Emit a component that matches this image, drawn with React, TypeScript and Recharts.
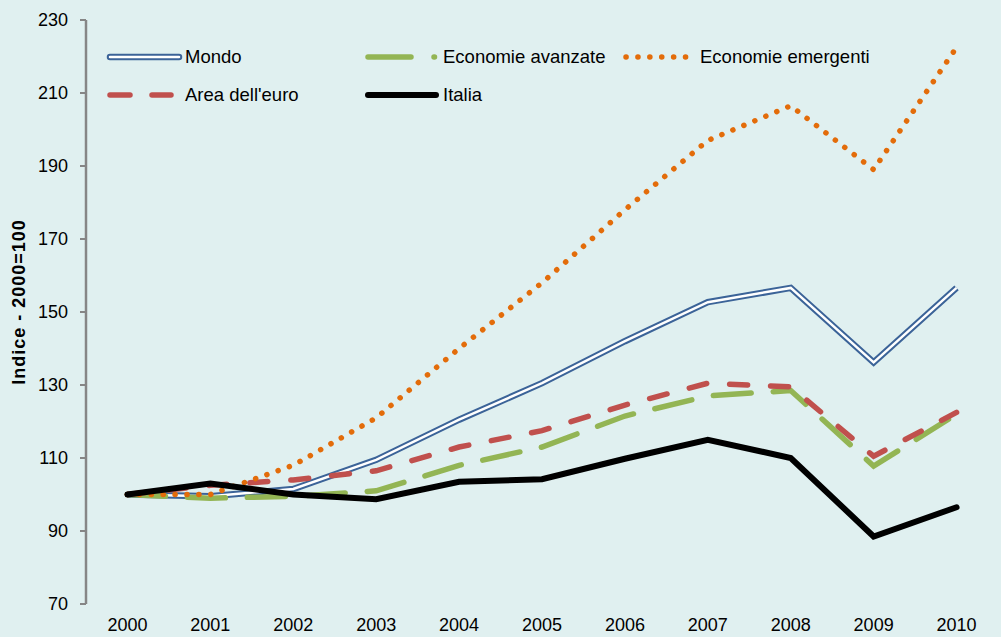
import { LineChart, Line, XAxis, YAxis } from 'recharts';

const years = [2000, 2001, 2002, 2003, 2004, 2005, 2006, 2007, 2008, 2009, 2010];
const mondo = [100, 99.5, 101.5, 109.5, 120.5, 130.5, 142, 152.7, 156.6, 136.2, 156.6];
const avanzate = [100, 99, 99.5, 101, 108, 113, 121.5, 127, 128.5, 107.8, 122];
const emergenti = [100, 100, 108, 121, 140, 158, 178, 197, 206.5, 189, 222.5];
const areaEuro = [100, 102.5, 104, 106.5, 113, 117.5, 124.5, 130.5, 129.5, 110.5, 122.5];
const italia = [100, 103, 100, 98.7, 103.5, 104.2, 109.8, 115, 110, 88.5, 96.5];
const yTicks = [70, 90, 110, 130, 150, 170, 190, 210, 230];
const bandEdges = [1999.5, 2000.5, 2001.5, 2002.5, 2003.5, 2004.5, 2005.5, 2006.5, 2007.5, 2008.5, 2009.5, 2010.5];

const rows = years.map((year, i) => ({
  year,
  mondo: mondo[i],
  avanzate: avanzate[i],
  emergenti: emergenti[i],
  areaEuro: areaEuro[i],
  italia: italia[i],
}));

const BG = '#E0F0F0';
const AXIS = '#868686';
const BLUE = '#3B6398';
const GREEN = '#93B554';
const ORANGE = '#E36C0A';
const RED = '#C0504D';
const FONT = '"Liberation Sans", Arial, sans-serif';

function LegendOverlay() {
  const txt = { fontFamily: FONT, fontSize: 18.5, fill: '#000' } as const;
  return (
    <svg width={1001} height={130} style={{ position: 'absolute', left: 0, top: 0, pointerEvents: 'none' }}>
      {/* Mondo */}
      <line x1={110} y1={57} x2={179} y2={57} stroke={BLUE} strokeWidth={6.5} strokeLinecap="round" />
      <line x1={110} y1={57} x2={179} y2={57} stroke="#fff" strokeWidth={2.5} strokeLinecap="round" />
      <text x={185} y={63} {...txt}>Mondo</text>
      {/* Economie avanzate */}
      <line x1={368} y1={57} x2={411} y2={57} stroke={GREEN} strokeWidth={5.5} strokeLinecap="round" />
      <line x1={434} y1={57} x2={434.5} y2={57} stroke={GREEN} strokeWidth={5.5} strokeLinecap="round" />
      <text x={443} y={63} {...txt}>Economie avanzate</text>
      {/* Economie emergenti */}
      <line x1={626} y1={57} x2={688} y2={57} stroke={ORANGE} strokeWidth={5.5} strokeLinecap="round" strokeDasharray="0.1 11.8" />
      <text x={700} y={63} {...txt}>Economie emergenti</text>
      {/* Area dell'euro */}
      <line x1={110} y1={95} x2={130} y2={95} stroke={RED} strokeWidth={5.5} strokeLinecap="round" />
      <line x1={152} y1={95} x2={171} y2={95} stroke={RED} strokeWidth={5.5} strokeLinecap="round" />
      <text x={185} y={101} {...txt}>Area dell'euro</text>
      {/* Italia */}
      <line x1={368} y1={95} x2={436} y2={95} stroke="#000" strokeWidth={6} strokeLinecap="round" />
      <text x={443} y={101} {...txt}>Italia</text>
    </svg>
  );
}

export default function App() {
  const tickStyle = { fontFamily: FONT, fontSize: 18, fill: '#000' };
  return (
    <div style={{ position: 'absolute', left: 0, top: 0, width: 1001, height: 637, background: BG }}>
      <LineChart width={1001} height={637} data={rows} margin={{ top: 20, right: 3, left: 26, bottom: 0 }}>
        <XAxis
          xAxisId="b"
          type="number"
          dataKey="year"
          domain={[1999.5, 2010.5]}
          allowDataOverflow
          ticks={bandEdges}
          interval={0}
          tick={false}
          tickSize={7}
          height={0}
          axisLine={{ stroke: AXIS, strokeWidth: 2.5 }}
          tickLine={{ stroke: AXIS, strokeWidth: 2 }}
        />
        <XAxis
          type="number"
          dataKey="year"
          domain={[1999.5, 2010.5]}
          allowDataOverflow
          ticks={years}
          interval={0}
          height={33}
          axisLine={false}
          tickLine={false}
          tickSize={0}
          tickMargin={14}
          tick={tickStyle}
        />
        <XAxis
          xAxisId="top"
          orientation="top"
          type="number"
          dataKey="year"
          domain={[1999.5, 2010.5]}
          allowDataOverflow
          height={0}
          tick={false}
          tickLine={false}
          axisLine={{ stroke: AXIS, strokeWidth: 2.5 }}
        />
        <YAxis
          domain={[70, 230]}
          ticks={yTicks}
          interval={0}
          width={60}
          tickSize={6}
          tickMargin={12}
          tick={tickStyle}
          axisLine={{ stroke: AXIS, strokeWidth: 2.5 }}
          tickLine={{ stroke: AXIS, strokeWidth: 2 }}
          label={{
            content: () => (
              <text
                x={25}
                y={302}
                transform="rotate(-90 25 302)"
                textAnchor="middle"
                fontFamily={FONT}
                fontSize={18}
                fontWeight="bold"
                letterSpacing={1}
                fill="#000"
              >
                Indice - 2000=100
              </text>
            ),
          }}
        />
        <YAxis
          yAxisId="r"
          orientation="right"
          domain={[70, 230]}
          width={0}
          tick={false}
          tickLine={false}
          axisLine={{ stroke: AXIS, strokeWidth: 2.5 }}
        />
        <Line dataKey="mondo" stroke={BLUE} strokeWidth={6.5} dot={false} isAnimationActive={false} strokeLinejoin="miter" />
        <Line dataKey="mondo" stroke="#fff" strokeWidth={2.5} dot={false} isAnimationActive={false} strokeLinejoin="miter" />
        <Line dataKey="avanzate" stroke={GREEN} strokeWidth={5.5} strokeDasharray="38 22" strokeLinecap="round" dot={false} isAnimationActive={false} />
        <Line dataKey="areaEuro" stroke={RED} strokeWidth={5.5} strokeDasharray="18 23" strokeLinecap="round" dot={false} isAnimationActive={false} />
        <Line dataKey="emergenti" stroke={ORANGE} strokeWidth={5.5} strokeDasharray="0.1 11.8" strokeLinecap="round" dot={false} isAnimationActive={false} />
        <Line dataKey="italia" stroke="#000" strokeWidth={6} strokeLinecap="round" dot={false} isAnimationActive={false} />
      </LineChart>
      <LegendOverlay />
    </div>
  );
}
